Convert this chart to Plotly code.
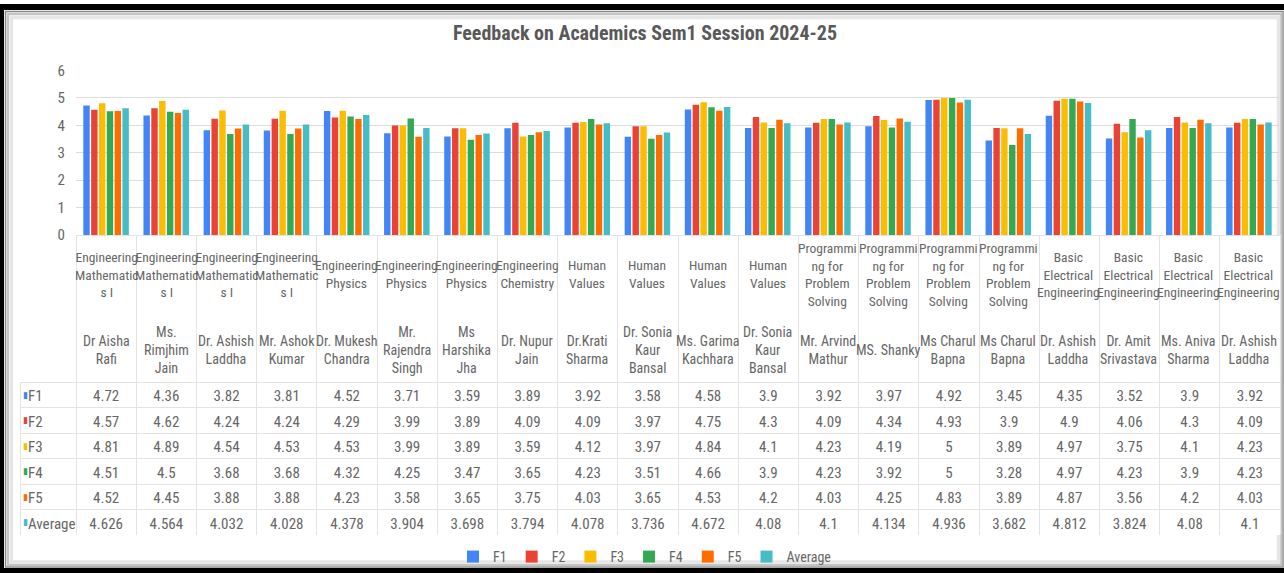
import plotly.graph_objects as go

W, H = 1284, 573

subjects = [
    "Engineering<br>Mathematic<br>s I", "Engineering<br>Mathematic<br>s I",
    "Engineering<br>Mathematic<br>s I", "Engineering<br>Mathematic<br>s I",
    "Engineering<br>Physics", "Engineering<br>Physics", "Engineering<br>Physics",
    "Engineering<br>Chemistry",
    "Human<br>Values", "Human<br>Values", "Human<br>Values", "Human<br>Values",
    "Programmi<br>ng for<br>Problem<br>Solving", "Programmi<br>ng for<br>Problem<br>Solving",
    "Programmi<br>ng for<br>Problem<br>Solving", "Programmi<br>ng for<br>Problem<br>Solving",
    "Basic<br>Electrical<br>Engineering", "Basic<br>Electrical<br>Engineering",
    "Basic<br>Electrical<br>Engineering", "Basic<br>Electrical<br>Engineering",
]
teachers = [
    "Dr Aisha<br>Rafi", "Ms.<br>Rimjhim<br>Jain", "Dr. Ashish<br>Laddha", "Mr. Ashok<br>Kumar",
    "Dr. Mukesh<br>Chandra", "Mr.<br>Rajendra<br>Singh", "Ms<br>Harshika<br>Jha", "Dr. Nupur<br>Jain",
    "Dr.Krati<br>Sharma", "Dr. Sonia<br>Kaur<br>Bansal", "Ms. Garima<br>Kachhara", "Dr. Sonia<br>Kaur<br>Bansal",
    "Mr. Arvind<br>Mathur", "MS. Shanky", "Ms Charul<br>Bapna", "Ms Charul<br>Bapna",
    "Dr. Ashish<br>Laddha", "Dr. Amit<br>Srivastava", "Ms. Aniva<br>Sharma", "Dr. Ashish<br>Laddha",
]

F1 = [4.72, 4.36, 3.82, 3.81, 4.52, 3.71, 3.59, 3.89, 3.92, 3.58, 4.58, 3.9, 3.92, 3.97, 4.92, 3.45, 4.35, 3.52, 3.9, 3.92]
F2 = [4.57, 4.62, 4.24, 4.24, 4.29, 3.99, 3.89, 4.09, 4.09, 3.97, 4.75, 4.3, 4.09, 4.34, 4.93, 3.9, 4.9, 4.06, 4.3, 4.09]
F3 = [4.81, 4.89, 4.54, 4.53, 4.53, 3.99, 3.89, 3.59, 4.12, 3.97, 4.84, 4.1, 4.23, 4.19, 5, 3.89, 4.97, 3.75, 4.1, 4.23]
F4 = [4.51, 4.5, 3.68, 3.68, 4.32, 4.25, 3.47, 3.65, 4.23, 3.51, 4.66, 3.9, 4.23, 3.92, 5, 3.28, 4.97, 4.23, 3.9, 4.23]
F5 = [4.52, 4.45, 3.88, 3.88, 4.23, 3.58, 3.65, 3.75, 4.03, 3.65, 4.53, 4.2, 4.03, 4.25, 4.83, 3.89, 4.87, 3.56, 4.2, 4.03]
Average = [4.626, 4.564, 4.032, 4.028, 4.378, 3.904, 3.698, 3.794, 4.078, 3.736, 4.672, 4.08, 4.1, 4.134, 4.936, 3.682, 4.812, 3.824, 4.08, 4.1]

series_names = ["F1", "F2", "F3", "F4", "F5", "Average"]
series_values = [F1, F2, F3, F4, F5, Average]
colors = ["#4285F4", "#EA4335", "#FBBC04", "#34A853", "#FF6D01", "#46BDC6"]

FONT = "Roboto Condensed, Liberation Sans Narrow, Arial Narrow, sans-serif"
GREY = "#666666"


def px_x(p):
    return p / W


def px_y(p):
    return 1 - p / H


n = len(F1)
xs = list(range(n))

fig = go.Figure()

for name, vals, col in zip(series_names, series_values, colors):
    fig.add_trace(go.Bar(x=xs, y=vals, name=name, marker=dict(color=col, line=dict(width=0)),
                         hoverinfo="y+name"))

# data table (row labels + values)
cols = [series_names]
for i in range(n):
    cols.append([f"{s[i]:g}" for s in series_values])

x_left, x_plot, x_right = 20, 76, 1279
table_top, header_h, row_h = 235, 147, 25.5
col_w = (x_right - x_plot) / n
n_rows = len(series_names)
table_bottom = table_top + header_h + row_h * n_rows
fig.add_trace(go.Table(
    domain=dict(x=[px_x(x_left), px_x(x_right + 1)], y=[px_y(table_bottom + 1), px_y(table_top)]),
    columnwidth=[x_plot - x_left] + [col_w] * n,
    header=dict(values=[""] * (n + 1), height=header_h,
                fill=dict(color=["rgba(0,0,0,0)"] + ["white"] * n),
                line=dict(color=["rgba(0,0,0,0)"] + ["#e3e3e3"] * n, width=1)),
    cells=dict(values=cols, height=row_h, fill_color="white",
               align=["left"] + ["center"] * n,
               line=dict(color="#e3e3e3", width=1),
               font=dict(family=FONT, size=15, color=GREY)),
))

annotations = []
for i in range(n):
    annotations.append(dict(x=xs[i], xref="x", y=px_y(274), yref="paper", text=subjects[i],
                            showarrow=False, yanchor="middle", xanchor="center",
                            font=dict(family=FONT, size=13.5, color=GREY)))
    annotations.append(dict(x=xs[i], xref="x", y=px_y(350), yref="paper", text=teachers[i],
                            showarrow=False, yanchor="middle", xanchor="center",
                            font=dict(family=FONT, size=14, color=GREY)))
# colour keys in front of the table row labels
for k, c in enumerate(colors):
    annotations.append(dict(x=px_x(x_left + 5), xref="paper", xanchor="center",
                            y=px_y(table_top + header_h + row_h * (k + 0.5)), yref="paper", yanchor="middle",
                            text="▮", showarrow=False, font=dict(family="DejaVu Sans", size=9, color=c)))

shapes = [
    # black frame bands
    dict(type="rect", xref="paper", yref="paper", x0=0, x1=1, y0=px_y(10), y1=px_y(4),
         fillcolor="black", line=dict(width=0), layer="above"),
    dict(type="rect", xref="paper", yref="paper", x0=0, x1=px_x(4), y0=0, y1=px_y(4),
         fillcolor="black", line=dict(width=0), layer="above"),
    dict(type="rect", xref="paper", yref="paper", x0=0, x1=1, y0=0, y1=px_y(568),
         fillcolor="black", line=dict(width=0), layer="above"),
    # inner shadow
    dict(type="rect", xref="paper", yref="paper", x0=px_x(5.5), x1=px_x(1283), y0=px_y(567), y1=px_y(11.5),
         line=dict(color="#8a8a8a", width=1.5), layer="below"),
    dict(type="rect", xref="paper", yref="paper", x0=px_x(8), x1=px_x(1281), y0=px_y(565), y1=px_y(14),
         line=dict(color="#c4c4c4", width=2.5), layer="below"),
    dict(type="rect", xref="paper", yref="paper", x0=px_x(11.5), x1=px_x(1278.5), y0=px_y(562), y1=px_y(17.5),
         line=dict(color="#e6e6e6", width=3.5), layer="below"),
]

fig.update_layout(
    width=W, height=H,
    margin=dict(l=0, r=0, t=0, b=0),
    paper_bgcolor="white", plot_bgcolor="white",
    font=dict(family=FONT, color=GREY),
    title=dict(text="<b>Feedback on Academics Sem1 Session 2024-25</b>", x=px_x(645), y=px_y(33),
               xanchor="center", yanchor="middle",
               font=dict(family=FONT, size=20, color="#595959")),
    barmode="group", bargap=0.22, bargroupgap=0.18,
    xaxis=dict(domain=[px_x(x_plot), px_x(x_right)], range=[-0.5, n - 0.5],
               showticklabels=False, showgrid=False, zeroline=False, showline=False,
               fixedrange=True, automargin=False),
    yaxis=dict(domain=[px_y(table_top), px_y(70.5)], range=[0, 6], tickvals=[0, 1, 2, 3, 4, 5, 6],
               showgrid=True, gridcolor="#dcdcdc", gridwidth=1, zeroline=False, showline=False,
               tickfont=dict(family=FONT, size=15, color=GREY), ticks="", ticklabelstandoff=10,
               automargin=False, fixedrange=True),
    legend=dict(orientation="h", x=px_x(645), xanchor="center", y=0, yanchor="bottom",
                font=dict(family=FONT, size=14, color=GREY), itemwidth=30,
                bgcolor="rgba(0,0,0,0)", traceorder="normal"),
    annotations=annotations,
    shapes=shapes,
)

fig.write_html("out.html", config={"displayModeBar": False},
               post_script="document.body.style.margin='0';document.body.style.overflow='hidden';")
